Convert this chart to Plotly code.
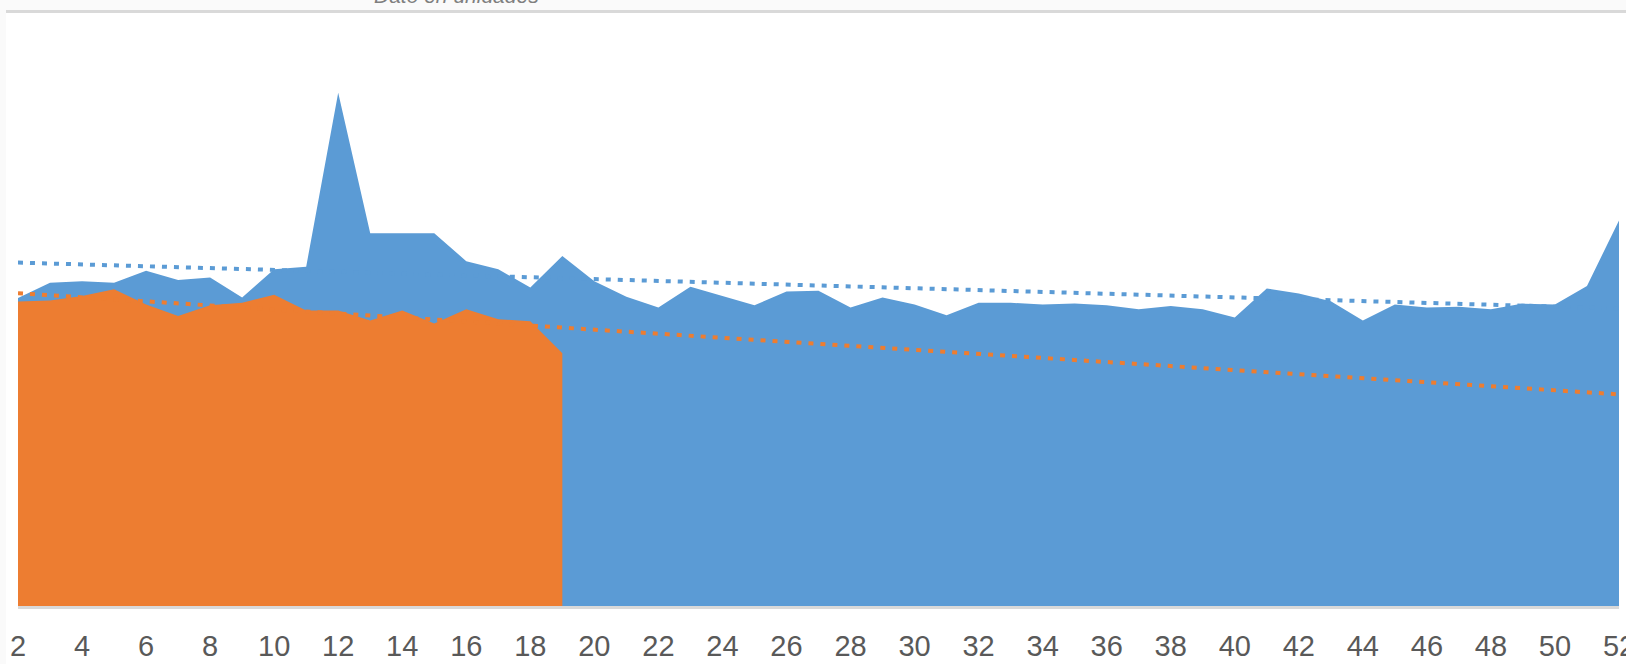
import numpy as np
import plotly.graph_objects as go

# Week numbers (category axis)
weeks_a = list(range(2, 53))   # series A: weeks 2..52
weeks_b = list(range(2, 20))   # series B: weeks 2..19

# Values ("Dato en unidades")
serie_a = [770, 808, 812, 808, 838, 815, 821, 771, 842, 848,
           1283, 932, 932, 932, 862, 842, 796, 875, 812, 773,
           746, 798, 775, 752, 786, 788, 746, 771, 754, 727,
           758, 758, 754, 756, 752, 742, 750, 742, 721, 794,
           781, 762, 714, 754, 746, 748, 742, 756, 754, 800,
           964]
serie_b = [761, 764, 775, 792, 754, 725, 752, 758, 778, 739,
           739, 714, 739, 706, 742, 717, 712, 632]

tick_labels = [str(w) for w in range(2, 53, 2)]
title_text = "Dato en unidades"

BLUE = "#5B9BD5"
ORANGE = "#ED7D31"

# linear trendlines (as the spreadsheet trendline), B forecast forward to week 52
ca = np.polyfit(weeks_a, serie_a, 1)
cb = np.polyfit(weeks_b, serie_b, 1)
trend_x = np.array(weeks_a, dtype=float)
trend_a = np.polyval(ca, trend_x)
trend_b = np.polyval(cb, trend_x)

fig = go.Figure()
fig.add_trace(go.Scatter(x=weeks_a, y=serie_a, mode="lines", fill="tozeroy",
                         line=dict(width=0, color=BLUE), fillcolor=BLUE,
                         showlegend=False, hoverinfo="x+y"))
fig.add_trace(go.Scatter(x=weeks_b, y=serie_b, mode="lines", fill="tozeroy",
                         line=dict(width=0, color=ORANGE), fillcolor=ORANGE,
                         showlegend=False, hoverinfo="x+y"))
fig.add_trace(go.Scatter(x=trend_x, y=trend_a, mode="lines",
                         line=dict(width=4, color=BLUE, dash="5px,7px"),
                         showlegend=False, hoverinfo="skip"))
fig.add_trace(go.Scatter(x=trend_x, y=trend_b, mode="lines",
                         line=dict(width=4, color=ORANGE, dash="5px,7px"),
                         showlegend=False, hoverinfo="skip"))

W, H = 1626, 664
L, R, T, B = 18, 7, 6, 58
pw, ph = W - L - R, H - T - B

def px(xp):
    return (xp - L) / pw

def py(yp):
    return 1 - (yp - T) / ph

shapes = [
    # light grey outer frame strip on the left and above
    dict(type="rect", xref="paper", yref="paper", x0=px(0), x1=px(6), y0=py(H), y1=py(0),
         fillcolor="#fafafa", line=dict(width=0), layer="below"),
    dict(type="rect", xref="paper", yref="paper", x0=px(0), x1=px(W), y0=py(10), y1=py(0),
         fillcolor="#fafafa", line=dict(width=0), layer="below"),
    # grey rule under the cut-off title
    dict(type="rect", xref="paper", yref="paper", x0=px(6), x1=px(W), y0=py(13), y1=py(10),
         fillcolor="#d9d9d9", line=dict(width=0), layer="below"),
]

fig.update_layout(
    width=W, height=H,
    margin=dict(l=L, r=R, t=T, b=B, pad=0, autoexpand=False),
    paper_bgcolor="white", plot_bgcolor="white",
    shapes=shapes,
    annotations=[dict(text=f"<i>{title_text}</i>", xref="paper", yref="paper",
                      x=px(456), y=py(0), xanchor="center", yanchor="bottom",
                      yshift=-9, showarrow=False,
                      font=dict(family="Liberation Sans", size=21, color="#7f7f7f"))],
    xaxis=dict(range=[2, 52], tickmode="array", tickvals=list(range(2, 53, 2)),
               ticktext=tick_labels, showgrid=False, zeroline=False,
               showline=True, linecolor="#d9d9d9", linewidth=3,
               ticks="", ticklabelstandoff=12, automargin=False,
               ticklabeloverflow="allow",
               tickfont=dict(family="Liberation Sans", size=29, color="#595959"),
               layer="below traces"),
    yaxis=dict(range=[0, 1500], showgrid=False, zeroline=False, showline=False,
               showticklabels=False, ticks="", automargin=False),
)

fig.write_html("out.html", config={"displayModeBar": False},
               post_script="document.body.style.margin='0';document.body.style.overflow='hidden';")
